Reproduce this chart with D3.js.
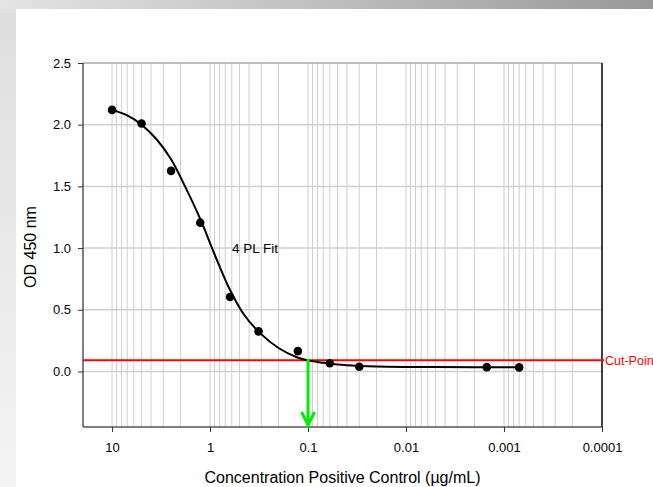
<!DOCTYPE html>
<html>
<head>
<meta charset="utf-8">
<script src="https://cdn.jsdelivr.net/npm/d3@7"></script>
<style>
  html, body { margin: 0; padding: 0; background: #fff; overflow: hidden; }
  svg { display: block; font-family: "Liberation Sans", Arial, sans-serif; }
</style>
</head>
<body>
<script>
// measured points (concentration in ug/mL, OD 450)
const conc = [10, 5, 2.5, 1.26, 0.625, 0.32, 0.127, 0.06, 0.03, 0.0015, 0.0007];
const od = [2.12, 2.01, 1.626, 1.206, 0.604, 0.325, 0.165, 0.067, 0.038, 0.035, 0.033];

// 4 PL fit curve
const fitConc = [10, 7, 5, 3.5, 2.5, 1.8, 1.25, 0.9, 0.625, 0.45, 0.3125, 0.2, 0.13, 0.1, 0.07, 0.05, 0.03, 0.02, 0.01, 0.005, 0.002, 0.0007];
const fitOd = [2.12, 2.075, 2.0, 1.88, 1.72, 1.5, 1.23, 0.95, 0.66, 0.46, 0.315, 0.19, 0.115, 0.09, 0.07, 0.056, 0.045, 0.04, 0.037, 0.036, 0.035, 0.034];

const cutPoint = 0.09;
const cutConc = 0.1;

const xTicks = [10, 1, 0.1, 0.01, 0.001, 0.0001];
const yTicks = [0, 0.5, 1.0, 1.5, 2.0, 2.5];

const width = 653, height = 487;
const margin = { top: 63, right: 51, bottom: 60, left: 83 };

const svg = d3.select("body").append("svg")
  .attr("width", width)
  .attr("height", height);

// slide background bands
const defs = svg.append("defs");
const gTop = defs.append("linearGradient").attr("id", "gTop");
gTop.append("stop").attr("offset", 0).attr("stop-color", "#e4e4e4");
gTop.append("stop").attr("offset", 1).attr("stop-color", "#999");
const gLeft = defs.append("linearGradient").attr("id", "gLeft")
  .attr("x1", 0).attr("y1", 0).attr("x2", 0).attr("y2", 1);
gLeft.append("stop").attr("offset", 0).attr("stop-color", "#dedede");
gLeft.append("stop").attr("offset", 1).attr("stop-color", "#f4f4f4");

svg.append("rect").attr("x", 0).attr("y", 0).attr("width", 16).attr("height", height).attr("fill", "url(#gLeft)");
svg.append("rect").attr("x", 0).attr("y", 0).attr("width", width).attr("height", 9).attr("fill", "url(#gTop)");

const x = d3.scaleLog().domain([19.8, 0.0001]).range([margin.left, width - margin.right]);
const y = d3.scaleLinear().domain([-0.45, 2.5]).range([height - margin.bottom, margin.top]);

const x0 = x.range()[0], x1 = x.range()[1];
const y0 = y.range()[0], y1 = y.range()[1];

// minor + major vertical gridlines
const vLines = [];
for (let e = -4; e <= 1; e++) {
  for (let m = 1; m <= 9; m++) {
    const v = m * Math.pow(10, e);
    if (v <= 19.8 && v > 0.0001) vLines.push(v);
  }
}
svg.append("g")
  .selectAll("line")
  .data(vLines)
  .join("line")
  .attr("x1", d => x(d)).attr("x2", d => x(d))
  .attr("y1", y1).attr("y2", y0)
  .attr("stroke", "#cfcfcf")
  .attr("stroke-width", 1);

svg.append("g")
  .selectAll("line")
  .data([0, 0.5, 1.0, 1.5, 2.0])
  .join("line")
  .attr("x1", x0).attr("x2", x1)
  .attr("y1", d => y(d)).attr("y2", d => y(d))
  .attr("stroke", "#d0d0d0")
  .attr("stroke-width", 1.5);

// frame
svg.append("line").attr("x1", x0).attr("x2", x1).attr("y1", y1).attr("y2", y1)
  .attr("stroke", "#aaa").attr("stroke-width", 1.5);
svg.append("line").attr("x1", x1).attr("x2", x1).attr("y1", y1).attr("y2", y0)
  .attr("stroke", "#000").attr("stroke-width", 1.5);

// axes
const xAxis = svg.append("g")
  .attr("transform", `translate(0,${y0})`)
  .call(d3.axisBottom(x).tickValues(xTicks).tickFormat(d => String(+d.toPrecision(1))).tickSize(5).tickPadding(11));
const yAxis = svg.append("g")
  .attr("transform", `translate(${x0},0)`)
  .call(d3.axisLeft(y).tickValues(yTicks).tickFormat(d3.format(".1f")).tickSize(5).tickPadding(7));

[xAxis, yAxis].forEach(a => {
  a.select(".domain").attr("stroke", "#555").attr("stroke-width", 1.5);
  a.selectAll(".tick line").attr("stroke", "#333");
  a.selectAll("text").attr("font-size", 13).attr("fill", "#000")
    .attr("font-family", "Liberation Sans, Arial, sans-serif");
});
xAxis.select(".domain").attr("d", `M${x0},0H${x1}`);
yAxis.select(".domain").attr("d", `M0,${y0}V${y1}`);

// cut-point line
svg.append("line")
  .attr("x1", x0).attr("x2", x1 + 2)
  .attr("y1", y(cutPoint)).attr("y2", y(cutPoint))
  .attr("stroke", "#ff0000").attr("stroke-width", 2);
svg.append("text")
  .attr("x", x1 + 3).attr("y", y(cutPoint) + 4.5)
  .attr("font-size", 12.5).attr("fill", "#ff0000")
  .text("Cut-Point");

// fit curve
const line = d3.line()
  .x((d, i) => x(fitConc[i]))
  .y(d => y(d))
  .curve(d3.curveCatmullRom.alpha(0.5));
svg.append("path")
  .datum(fitOd)
  .attr("d", line)
  .attr("fill", "none")
  .attr("stroke", "#000")
  .attr("stroke-width", 2);

// data points
svg.append("g")
  .selectAll("circle")
  .data(od)
  .join("circle")
  .attr("cx", (d, i) => x(conc[i]))
  .attr("cy", d => y(d))
  .attr("r", 4.3)
  .attr("fill", "#000");

// green arrow
const ax = x(cutConc);
const arrow = svg.append("g").attr("stroke", "#00ee00").attr("stroke-width", 3).attr("fill", "none")
  .attr("stroke-linecap", "round");
arrow.append("line").attr("x1", ax).attr("x2", ax).attr("y1", y(cutPoint)).attr("y2", y0 - 1);
arrow.append("path").attr("d", `M${ax - 6},${y0 - 14}L${ax},${y0 - 2}L${ax + 6},${y0 - 14}`);

svg.append("text")
  .attr("x", 232).attr("y", 253)
  .attr("font-size", 13.5)
  .text("4 PL Fit");

// axis titles
svg.append("text")
  .attr("x", (x0 + x1) / 2).attr("y", 483)
  .attr("text-anchor", "middle")
  .attr("font-size", 16)
  .text("Concentration Positive Control (µg/mL)");
svg.append("text")
  .attr("transform", `translate(36,247) rotate(-90)`)
  .attr("text-anchor", "middle")
  .attr("font-size", 16)
  .text("OD 450 nm");
</script>
</body>
</html>
